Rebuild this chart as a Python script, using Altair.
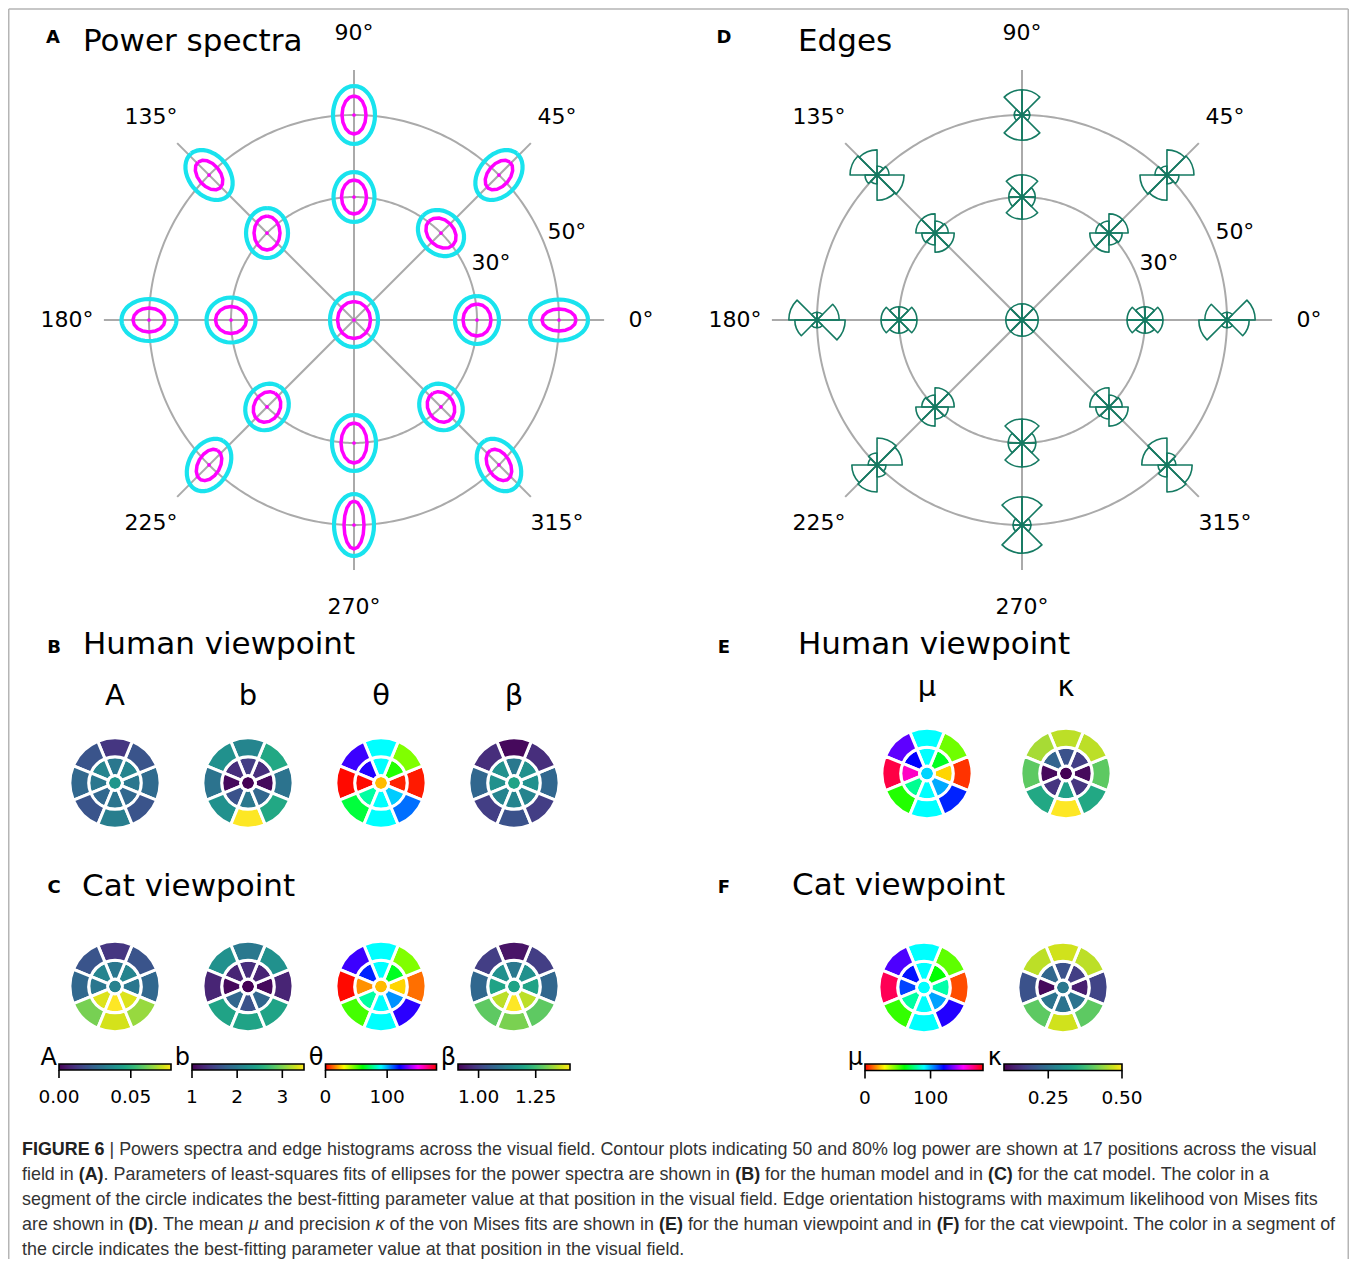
import numpy as np
import pandas as pd
import altair as alt

# ----------------------------------------------------------------- data
DIRECTIONS = [0, 45, 90, 135, 180, 225, 270, 315]      # polar angle of positions (deg)
RING_ECC = [30, 50]                                     # eccentricity rings (deg)
AXIS_LABELS = ["0°", "45°", "90°", "135°", "180°", "225°", "270°", "315°"]
RING_LABELS = ["30°", "50°"]

POS_ECC = [0] + [30] * 8 + [50] * 8
POS_ANG = [0] + DIRECTIONS + DIRECTIONS

# Panel A: 80% (cyan) and 50% (magenta) log-power contours (ellipse extents, spectral units)
PS_OUT_MAJOR = [27, 24, 25, 25, 25, 24.5, 24, 28, 24, 29, 28, 29, 28, 27.5, 28, 31, 28]
PS_OUT_MINOR = [24, 22, 21, 20.5, 21, 22.5, 21, 22, 21, 20.5, 20, 21, 20, 21, 20, 20, 20]
PS_IN_MAJOR = [18.5, 16, 17, 17, 17, 15.5, 16, 20, 16, 17, 17, 19, 17, 16, 17, 24, 17]
PS_IN_MINOR = [16.5, 14, 13, 12.5, 13, 13.5, 13, 13, 13, 11, 11, 12, 11, 12, 11, 10, 11]
PS_ORIENT = [90, 90, 135, 90, 90, 0, 60, 90, 120, 0, 50, 90, 130, 0, 60, 90, 120]

# Panel D: edge orientation histograms, bins 0-45, 45-90, 90-135, 135-180 deg (axial)
EDGE_B1 = [0.27, 0.30, 0.32, 0.22, 0.22, 0.30, 0.32, 0.23, 0.22, 0.47, 0.45, 0.13, 0.20, 0.37, 0.42, 0.15, 0.15]
EDGE_B2 = [0.27, 0.22, 0.32, 0.37, 0.20, 0.22, 0.32, 0.40, 0.20, 0.13, 0.42, 0.42, 0.15, 0.13, 0.45, 0.47, 0.20]
EDGE_B3 = [0.27, 0.22, 0.20, 0.37, 0.32, 0.22, 0.20, 0.40, 0.32, 0.13, 0.15, 0.42, 0.42, 0.13, 0.20, 0.47, 0.45]
EDGE_B4 = [0.27, 0.30, 0.22, 0.22, 0.32, 0.30, 0.22, 0.23, 0.32, 0.37, 0.20, 0.13, 0.45, 0.47, 0.15, 0.15, 0.42]

# Dartboards: centre value, inner ring (8 directions), outer ring (8 directions)
HUMAN_A_C = 0.041
HUMAN_A_IN = [0.031, 0.035, 0.031, 0.035, 0.031, 0.026, 0.030, 0.026]
HUMAN_A_OUT = [0.027, 0.020, 0.012, 0.020, 0.026, 0.020, 0.033, 0.020]
CAT_A_C = 0.034
CAT_A_IN = [0.031, 0.035, 0.031, 0.035, 0.031, 0.074, 0.078, 0.074]
CAT_A_OUT = [0.026, 0.020, 0.012, 0.020, 0.026, 0.062, 0.073, 0.066]

HUMAN_B_C = 1.0
HUMAN_B_IN = [1.05, 1.32, 1.45, 1.32, 1.05, 1.62, 1.99, 1.82]
HUMAN_B_OUT = [1.94, 2.49, 2.12, 2.24, 1.94, 2.24, 3.48, 2.49]
CAT_B_C = 1.0
CAT_B_IN = [1.05, 1.25, 1.32, 1.25, 1.05, 1.82, 1.62, 1.82]
CAT_B_OUT = [1.25, 2.24, 1.99, 2.24, 1.25, 2.44, 2.44, 2.44]

HUMAN_TH_C = 22
HUMAN_TH_IN = [4, 56, 90, 124, 1, 79, 90, 96]
HUMAN_TH_OUT = [3, 45, 90, 127, 1, 67, 90, 107]
CAT_TH_C = 22
CAT_TH_IN = [25, 64, 90, 116, 17, 79, 90, 103]
CAT_TH_OUT = [13, 45, 90, 127, 1, 52, 90, 125]

HUMAN_BETA_C = 1.194
HUMAN_BETA_IN = [1.155, 1.155, 1.106, 1.155, 1.155, 1.13, 1.13, 1.13]
HUMAN_BETA_OUT = [1.072, 0.974, 0.92, 0.974, 1.072, 0.998, 1.032, 0.998]
CAT_BETA_C = 1.194
CAT_BETA_IN = [1.194, 1.155, 1.106, 1.155, 1.194, 1.351, 1.40, 1.351]
CAT_BETA_OUT = [1.072, 0.998, 0.935, 0.998, 1.072, 1.278, 1.302, 1.278]

HUMAN_MU_C = 95
HUMAN_MU_IN = [25, 64, 90, 120, 157, 77, 90, 100]
HUMAN_MU_OUT = [6, 47, 90, 131, 172, 56, 90, 116]
CAT_MU_C = 90
CAT_MU_IN = [80, 60, 90, 118, 112, 79, 90, 101]
CAT_MU_OUT = [9, 49, 90, 129, 170, 54, 90, 124]

HUMAN_KAPPA_C = 0.10
HUMAN_KAPPA_IN = [0.108, 0.172, 0.20, 0.228, 0.108, 0.16, 0.328, 0.16]
HUMAN_KAPPA_OUT = [0.40, 0.46, 0.46, 0.448, 0.40, 0.34, 0.50, 0.34]
CAT_KAPPA_C = 0.26
CAT_KAPPA_IN = [0.132, 0.172, 0.20, 0.232, 0.108, 0.252, 0.252, 0.252]
CAT_KAPPA_OUT = [0.18, 0.46, 0.472, 0.46, 0.20, 0.40, 0.472, 0.40]

# colour-bar domains and ticks
A_DOMAIN = [0.0, 0.078]
A_TICKS = [0.0, 0.05]
A_TICK_LABELS = ["0.00", "0.05"]
B_DOMAIN = [1.0, 3.48]
B_TICKS = [1, 2, 3]
B_TICK_LABELS = ["1", "2", "3"]
TH_DOMAIN = [0, 180]
TH_TICKS = [0, 100]
TH_TICK_LABELS = ["0", "100"]
BETA_DOMAIN = [0.91, 1.40]
BETA_TICKS = [1.0, 1.25]
BETA_TICK_LABELS = ["1.00", "1.25"]
MU_DOMAIN = [0, 180]
MU_TICKS = [0, 100]
MU_TICK_LABELS = ["0", "100"]
KAPPA_DOMAIN = [0.1, 0.5]
KAPPA_TICKS = [0.25, 0.5]
KAPPA_TICK_LABELS = ["0.25", "0.50"]

PANEL_LETTERS = ["A", "B", "C", "D", "E", "F"]
PANEL_TITLES = ["Power spectra", "Human viewpoint", "Cat viewpoint",
                "Edges", "Human viewpoint", "Cat viewpoint"]
PARAMS_BC = ["A", "b", "θ", "β"]
PARAMS_EF = ["μ", "κ"]

# caption: each line is a list of (text, style) runs; style n = normal, b = bold, i = italic
CAPTION = [
    [("FIGURE 6", "b"), (" | Powers spectra and edge histograms across the visual field. Contour plots indicating 50 and 80% log power are shown at 17 positions across the visual", "n")],
    [("field in ", "n"), ("(A)", "b"), (". Parameters of least-squares fits of ellipses for the power spectra are shown in ", "n"),
     ("(B)", "b"), (" for the human model and in ", "n"), ("(C)", "b"), (" for the cat model. The color in a", "n")],
    [("segment of the circle indicates the best-fitting parameter value at that position in the visual field. Edge orientation histograms with maximum likelihood von Mises fits", "n")],
    [("are shown in ", "n"), ("(D)", "b"), (". The mean ", "n"), ("μ", "i"), (" and precision ", "n"), ("κ", "i"),
     (" of the von Mises fits are shown in ", "n"), ("(E)", "b"), (" for the human viewpoint and in ", "n"),
     ("(F)", "b"), (" for the cat viewpoint. The color in a segment of", "n")],
    [("the circle indicates the best-fitting parameter value at that position in the visual field.", "n")],
]

# ----------------------------------------------------------------- layout / style
W, H = 1341, 1251
XS = alt.Scale(domain=[8, 8 + W], nice=False, zero=False)
YS = alt.Scale(domain=[8, 8 + H], nice=False, zero=False, reverse=True)
X = alt.X("x:Q", scale=XS, axis=None)
Y = alt.Y("y:Q", scale=YS, axis=None)
THETA_S = alt.Scale(domain=[0, 360], range=[0, 2 * np.pi])

FONT = "DejaVu Sans"
CAP_FONT = "Liberation Sans"
CAP_SIZE = 17.9
GRID = "#aaaaaa"
CYAN = "#19e3ee"
MAGENTA = "#ff00ff"
EDGE_GREEN = "#157a62"

PX_PER_DEG = 4.1
A_CENTER = (354, 320)
D_CENTER = (1022, 320)
SPOKE_ECC = 61
LABEL_ECC = 70
RING_LABEL_OFFSET = 6.2
RING_LABEL_ANG = 22.5

DART_RAD = alt.Scale(type="linear", domain=[0, 60], range=[0, 45], zero=True)
DART_EDGES = (10, 35, 60)
BC_X = [115, 248, 381, 514]
B_Y, C_Y = 783, 986.5
E_X = [927, 1066]
F_X = [924, 1063]
E_Y, F_Y = 773.5, 987.5

# Liberation Sans (Arial metrics) advance widths, 1/1000 em, used to lay out mixed-style caption runs
_REG = {" ": 278, "%": 889, "(": 333, ")": 333, ",": 278, "-": 333, ".": 278, "|": 260,
        "μ": 576, "κ": 500}
_REG.update({d: 556 for d in "0123456789"})
_REG.update(dict(zip("ABCDEFGHIJKLMNOPQRSTUVWXYZ",
                     [667, 667, 722, 722, 667, 611, 778, 722, 278, 500, 667, 556, 833, 722, 778, 667,
                      778, 722, 667, 611, 722, 667, 944, 667, 667, 611])))
_REG.update(dict(zip("abcdefghijklmnopqrstuvwxyz",
                     [556, 556, 500, 556, 556, 278, 556, 556, 222, 222, 500, 222, 833, 556, 556, 556,
                      556, 333, 500, 278, 556, 500, 722, 500, 500, 500])))
_BOLD = {" ": 278, "(": 333, ")": 333, "6": 556, "A": 722, "B": 722, "C": 722, "D": 722, "E": 667,
         "F": 611, "G": 778, "I": 278, "R": 722, "U": 722}


def run_width(s, style):
    table = _BOLD if style == "b" else _REG
    return sum(table.get(ch, 556) for ch in s) * CAP_SIZE / 1000.0


def polar(center, ecc, ang):
    a = np.deg2rad(np.asarray(ang, dtype=float))
    e = np.asarray(ecc, dtype=float) * PX_PER_DEG
    return center[0] + e * np.cos(a), center[1] - e * np.sin(a)


def text_layer(df, size, align="center", weight="normal", font=FONT, color="black",
               baseline="middle", style="normal"):
    return alt.Chart(df).mark_text(
        align=align, baseline=baseline, fontSize=size, fontWeight=weight, font=font, color=color,
        fontStyle=style
    ).encode(x=X, y=Y, text="t:N")


def polar_grid(center):
    t = np.linspace(0, 360, 361)
    rings = []
    for e in RING_ECC:
        x, y = polar(center, e, t)
        rings.append(pd.DataFrame({"x": x, "y": y, "ring": e, "k": np.arange(len(t))}))
    rings = pd.concat(rings, ignore_index=True)
    ring_layer = alt.Chart(rings).mark_line(color=GRID, strokeWidth=2).encode(
        x=X, y=Y, detail="ring:N", order="k:Q")
    ex, ey = polar(center, SPOKE_ECC, DIRECTIONS)
    sp = pd.DataFrame({"x": center[0], "y": center[1], "x2": ex, "y2": ey})
    spoke_layer = alt.Chart(sp).mark_rule(color=GRID, strokeWidth=2).encode(
        x=X, y=Y, x2="x2:Q", y2="y2:Q")
    lx, ly = polar(center, LABEL_ECC, DIRECTIONS)
    lab = text_layer(pd.DataFrame({"x": lx, "y": ly, "t": AXIS_LABELS}), 22)
    rx, ry = polar(center, np.array(RING_ECC) + RING_LABEL_OFFSET, [RING_LABEL_ANG] * 2)
    rlab = text_layer(pd.DataFrame({"x": rx, "y": ry, "t": RING_LABELS}), 22)
    return [ring_layer, spoke_layer, lab, rlab]


# ---- panel A contours
def contour_df(major, minor, npts):
    t = np.linspace(0, 2 * np.pi, npts + 1)
    rows = []
    for i in range(len(POS_ECC)):
        cx, cy = polar(A_CENTER, POS_ECC[i], POS_ANG[i])
        phi = np.deg2rad(PS_ORIENT[i])
        a, b = major[i], minor[i]
        dx = a * np.cos(t) * np.cos(phi) - b * np.sin(t) * np.sin(phi)
        dy = a * np.cos(t) * np.sin(phi) + b * np.sin(t) * np.cos(phi)
        rows.append(pd.DataFrame({"x": cx + dx, "y": cy - dy, "cid": i, "k": np.arange(len(t))}))
    return pd.concat(rows, ignore_index=True)


outer_c = alt.Chart(contour_df(PS_OUT_MAJOR, PS_OUT_MINOR, 40)).mark_line(
    color=CYAN, strokeWidth=4.2, strokeJoin="round").encode(x=X, y=Y, detail="cid:N", order="k:Q")
inner_c = alt.Chart(contour_df(PS_IN_MAJOR, PS_IN_MINOR, 16)).mark_line(
    color=MAGENTA, strokeWidth=3.5, strokeJoin="round").encode(x=X, y=Y, detail="cid:N", order="k:Q")
px, py = polar(A_CENTER, POS_ECC, POS_ANG)
dots = alt.Chart(pd.DataFrame({"x": px, "y": py})).mark_point(
    filled=True, color=MAGENTA, size=14, opacity=1).encode(x=X, y=Y)

# ---- panel D roses
rose_rows = []
bins = [EDGE_B1, EDGE_B2, EDGE_B3, EDGE_B4]
for i in range(len(POS_ECC)):
    cx, cy = polar(D_CENTER, POS_ECC[i], POS_ANG[i])
    for k in range(8):
        lo = 45 * k
        s = 90 - (lo + 45) + 360
        rose_rows.append({"x": cx, "y": cy, "t0": s, "t1": s + 45, "r0": 0.0, "r": bins[k % 4][i]})
rose = alt.Chart(pd.DataFrame(rose_rows)).mark_arc(
    fill="white", fillOpacity=0, stroke=EDGE_GREEN, strokeWidth=1.6, strokeJoin="round").encode(
    x=X, y=Y,
    theta=alt.Theta("t0:Q", scale=THETA_S, stack=False), theta2="t1:Q",
    radius=alt.Radius("r:Q", scale=alt.Scale(type="linear", domain=[0, 0.5], range=[0, 30], zero=True)),
    radius2="r0:Q")


# ---- dartboards
def dart_df(cx, cy, c, inner, outer):
    rows = [dict(x=cx, y=cy, t0=0, t1=360, r0=0, r1=DART_EDGES[0], v=c)]
    for ang, vi, vo in zip(DIRECTIONS, inner, outer):
        s = 90 - ang - 22.5 + 360
        rows.append(dict(x=cx, y=cy, t0=s, t1=s + 45, r0=DART_EDGES[0], r1=DART_EDGES[1], v=vi))
        rows.append(dict(x=cx, y=cy, t0=s, t1=s + 45, r0=DART_EDGES[1], r1=DART_EDGES[2], v=vo))
    return pd.DataFrame(rows)


def dart(df, cscale):
    return alt.Chart(df).mark_arc(stroke="white", strokeWidth=3).encode(
        x=X, y=Y,
        theta=alt.Theta("t0:Q", scale=THETA_S, stack=False), theta2="t1:Q",
        radius=alt.Radius("r1:Q", scale=DART_RAD), radius2="r0:Q",
        color=alt.Color("v:Q", scale=cscale, legend=None))


def colorbar(x0, x1, y0, y1, domain, ticks, tick_labels, label, cscale):
    n = int(round(x1 - x0))
    i = np.arange(n)
    w = (x1 - x0) / n
    bar = pd.DataFrame({
        "x": x0 + i * w, "x2": np.minimum(x0 + (i + 1) * w + 0.6, x1),
        "y": y0, "y2": y1,
        "v": domain[0] + (i + 0.5) / n * (domain[1] - domain[0])})
    grad = alt.Chart(bar).mark_rect().encode(
        x=X, x2="x2:Q", y=Y, y2="y2:Q", color=alt.Color("v:Q", scale=cscale, legend=None))
    frame = alt.Chart(pd.DataFrame({"x": [x0], "x2": [x1], "y": [y0], "y2": [y1]})).mark_rect(
        fill="white", fillOpacity=0, stroke="black", strokeWidth=1.6).encode(
        x=X, x2="x2:Q", y=Y, y2="y2:Q")
    tx = x0 + (np.array(ticks, dtype=float) - domain[0]) / (domain[1] - domain[0]) * (x1 - x0)
    tk = alt.Chart(pd.DataFrame({"x": tx, "y": y1, "y2": y1 + 8})).mark_rule(
        color="black", strokeWidth=1.6).encode(x=X, y=Y, y2="y2:Q")
    tl = text_layer(pd.DataFrame({"x": tx, "y": y1 + 27, "t": tick_labels}), 18.5)
    nm = text_layer(pd.DataFrame({"x": [x0 - 2], "y": [y0 + 1], "t": [label]}), 24,
                    align="right", baseline="alphabetic")
    return [grad, frame, tk, tl, nm]


def viridis(domain):
    return alt.Scale(scheme="viridis", domain=domain)


def hsv(domain):
    lo, hi = domain
    stops = [lo + (hi - lo) * j / 6 for j in range(7)]
    return alt.Scale(domain=stops,
                     range=["#ff0000", "#ffff00", "#00ff00", "#00ffff", "#0000ff", "#ff00ff", "#ff0000"],
                     interpolate="rgb")


CB_Y0, CB_Y1 = 1064, 1070
groups = []
specs_bc = [
    (A_DOMAIN, viridis(A_DOMAIN), (HUMAN_A_C, HUMAN_A_IN, HUMAN_A_OUT), (CAT_A_C, CAT_A_IN, CAT_A_OUT),
     (59, 171), A_TICKS, A_TICK_LABELS, "A"),
    (B_DOMAIN, viridis(B_DOMAIN), (HUMAN_B_C, HUMAN_B_IN, HUMAN_B_OUT), (CAT_B_C, CAT_B_IN, CAT_B_OUT),
     (192, 304), B_TICKS, B_TICK_LABELS, "b"),
    (TH_DOMAIN, hsv(TH_DOMAIN), (HUMAN_TH_C, HUMAN_TH_IN, HUMAN_TH_OUT), (CAT_TH_C, CAT_TH_IN, CAT_TH_OUT),
     (325.5, 436.5), TH_TICKS, TH_TICK_LABELS, "θ"),
    (BETA_DOMAIN, viridis(BETA_DOMAIN), (HUMAN_BETA_C, HUMAN_BETA_IN, HUMAN_BETA_OUT),
     (CAT_BETA_C, CAT_BETA_IN, CAT_BETA_OUT), (458, 570), BETA_TICKS, BETA_TICK_LABELS, "β"),
]
for j, (dom, cs, hum, cat, (bx0, bx1), ticks, tlabels, name) in enumerate(specs_bc):
    layers = [dart(dart_df(BC_X[j], B_Y, *hum), cs), dart(dart_df(BC_X[j], C_Y, *cat), cs)]
    layers += colorbar(bx0, bx1, CB_Y0, CB_Y1, dom, ticks, tlabels, name, cs)
    groups.append(alt.layer(*layers))

specs_ef = [
    (MU_DOMAIN, hsv(MU_DOMAIN), (HUMAN_MU_C, HUMAN_MU_IN, HUMAN_MU_OUT), (CAT_MU_C, CAT_MU_IN, CAT_MU_OUT),
     (865, 983), MU_TICKS, MU_TICK_LABELS, "μ"),
    (KAPPA_DOMAIN, viridis(KAPPA_DOMAIN), (HUMAN_KAPPA_C, HUMAN_KAPPA_IN, HUMAN_KAPPA_OUT),
     (CAT_KAPPA_C, CAT_KAPPA_IN, CAT_KAPPA_OUT), (1004, 1122), KAPPA_TICKS, KAPPA_TICK_LABELS, "κ"),
]
for j, (dom, cs, hum, cat, (bx0, bx1), ticks, tlabels, name) in enumerate(specs_ef):
    layers = [dart(dart_df(E_X[j], E_Y, *hum), cs), dart(dart_df(F_X[j], F_Y, *cat), cs)]
    layers += colorbar(bx0, bx1, CB_Y0, CB_Y1 + 0.5, dom, ticks, tlabels, name, cs)
    groups.append(alt.layer(*layers))

# ---- titles
letter_df = pd.DataFrame({"x": [53, 54, 54, 724, 724, 724], "y": [38, 648, 888, 38, 648, 888],
                          "t": PANEL_LETTERS})
title_df = pd.DataFrame({"x": [83, 83, 82, 798, 798, 792], "y": [42, 645, 887, 42, 645, 886],
                         "t": PANEL_TITLES})
param_df = pd.DataFrame({"x": BC_X + [927, 1066], "y": [696] * 4 + [687] * 2, "t": PARAMS_BC + PARAMS_EF})
letters = text_layer(letter_df, 18, weight="bold")
titles = text_layer(title_df, 31, align="left")
params = text_layer(param_df, 29)

# ---- caption (runs laid out left to right)
cap_rows = []
for li, runs in enumerate(CAPTION):
    cursor = 22.0
    y = 1150 + 25 * li
    for txt, st in runs:
        lead = len(txt) - len(txt.lstrip(" "))
        cap_rows.append({"x": cursor + run_width(txt[:lead], st), "y": y, "t": txt.strip(" "), "s": st})
        cursor += run_width(txt, st)
cap_df = pd.DataFrame(cap_rows)
cap_n = text_layer(cap_df[cap_df.s == "n"], CAP_SIZE, align="left", font=CAP_FONT, color="#333333")
cap_b = text_layer(cap_df[cap_df.s == "b"], CAP_SIZE, align="left", font=CAP_FONT, color="#222222",
                   weight="bold")
cap_i = text_layer(cap_df[cap_df.s == "i"], CAP_SIZE, align="left", font=CAP_FONT, color="#333333",
                   style="italic")

# ---- frame (left, top, right edges of the figure box)
frame_l = alt.Chart().mark_rule(color="#b5b5b5", strokeWidth=1.5).encode(
    x=alt.value(0.75), y=alt.value(1), y2=alt.value(H))
frame_t = alt.Chart().mark_rule(color="#b5b5b5", strokeWidth=1.5).encode(
    x=alt.value(0.75), x2=alt.value(W - 0.75), y=alt.value(1))
frame_r = alt.Chart().mark_rule(color="#b5b5b5", strokeWidth=1.5).encode(
    x=alt.value(W - 0.75), y=alt.value(1), y2=alt.value(H))

layers = []
layers += polar_grid(A_CENTER)
layers += [outer_c, inner_c, dots]
layers += polar_grid(D_CENTER)
layers += [rose]
layers += groups
layers += [letters, titles, params, cap_n, cap_b, cap_i, frame_l, frame_t, frame_r]

chart = alt.layer(*layers).resolve_scale(color="independent", radius="independent").properties(
    width=W, height=H, padding=0, autosize="none", background="white"
).configure_view(strokeWidth=0)

chart.save("out.html", embed_options={"renderer": "svg", "actions": False})
